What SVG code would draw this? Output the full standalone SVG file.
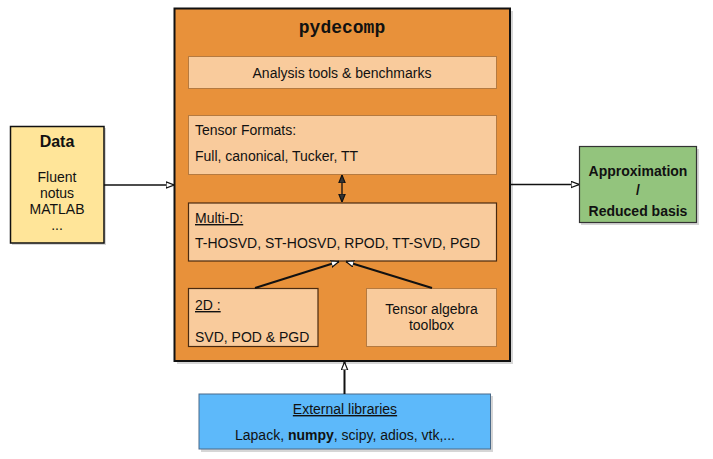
<svg xmlns="http://www.w3.org/2000/svg" width="713" height="459" viewBox="0 0 713 459">
<style>
text{font-family:"Liberation Sans",Arial,sans-serif;font-size:14px;fill:#111}
.b{font-weight:bold}
.c{text-anchor:middle}
.u{text-decoration:underline}
.sh{fill:#bbb;opacity:0.6}
.inL{fill:#F9CB9C;stroke:#B57A40;stroke-width:1}
.inD{fill:#F9CB9C;stroke:#4a2a10;stroke-width:1.2}
.ln{stroke:#111;stroke-width:1.3;fill:none}
.lnb{stroke:#111;stroke-width:2;fill:none}
</style>
<defs>
<marker id="ao" viewBox="0 0 10 10" refX="10" refY="5" markerWidth="8" markerHeight="8" markerUnits="userSpaceOnUse" orient="auto">
<path d="M0,1 L10,5 L0,9 Z" fill="#fff" stroke="#111" stroke-width="1.5"/>
</marker>
<marker id="af" viewBox="0 0 10 10" refX="10" refY="5" markerWidth="8" markerHeight="8" markerUnits="userSpaceOnUse" orient="auto-start-reverse">
<path d="M0,1 L10,5 L0,9 Z" fill="#333" stroke="#111" stroke-width="1.5"/>
</marker>
</defs>
<g id="main">
<rect class="sh" x="177" y="11" width="336" height="353"/>
<rect x="174.5" y="8.5" width="335.5" height="352.5" fill="#E8913A" stroke="#111" stroke-width="2"/>
<text class="b c" x="342" y="33" style="font-family:'Liberation Mono','DejaVu Sans Mono',monospace;font-size:18px">pydecomp</text>
</g>
<g id="analysis">
<rect class="inL" x="188.5" y="56.5" width="308" height="32"/>
<text class="c" x="342" y="77.5">Analysis tools &amp; benchmarks</text>
</g>
<g id="formats">
<rect class="inL" x="188.5" y="115.5" width="308" height="59"/>
<text x="195" y="135">Tensor Formats:</text>
<text x="195" y="161">Full, canonical, Tucker, TT</text>
</g>
<g id="multid">
<rect class="inD" x="188.5" y="203" width="308" height="58"/>
<text class="u" x="195" y="223">Multi-D:</text>
<text x="195" y="248">T-HOSVD, ST-HOSVD, RPOD, TT-SVD, PGD</text>
</g>
<g id="twod">
<rect class="inD" x="188.5" y="288.5" width="129.5" height="58"/>
<text class="u" x="195" y="310">2D :</text>
<text x="195" y="342">SVD, POD &amp; PGD</text>
</g>
<g id="algebra">
<rect class="inL" x="366.5" y="288.5" width="130" height="58"/>
<text class="c" x="431.5" y="314">Tensor algebra</text>
<text class="c" x="431.5" y="330">toolbox</text>
</g>
<g id="data">
<rect class="sh" x="12" y="128" width="94" height="117"/>
<rect x="10.5" y="126.5" width="93.5" height="116.5" fill="#FFE599" stroke="#111" stroke-width="1.5"/>
<text class="b c" x="57" y="147" style="font-size:16px">Data</text>
<text class="c" x="57" y="182">Fluent</text>
<text class="c" x="57" y="198">notus</text>
<text class="c" x="57" y="214">MATLAB</text>
<text class="c" x="57" y="230">...</text>
</g>
<g id="approx">
<rect class="sh" x="581" y="149" width="118" height="76"/>
<rect x="579.5" y="146.5" width="117" height="76" fill="#93C47D" stroke="#333" stroke-width="1.2"/>
<text class="b c" x="638" y="176">Approximation</text>
<text class="b c" x="638" y="195">/</text>
<text class="b c" x="638" y="216">Reduced basis</text>
</g>
<g id="external">
<rect class="sh" x="201" y="396" width="292" height="56"/>
<rect x="199" y="394" width="291.5" height="55" fill="#5DB9FA" stroke="#4a6a8a" stroke-width="1"/>
<text class="c u" x="345" y="414">External libraries</text>
<text class="c" x="345" y="440">Lapack, <tspan class="b">numpy</tspan>, scipy, adios, vtk,...</text>
</g>
<g id="connectors">
<line class="ln" x1="104" y1="185" x2="174" y2="185" marker-end="url(#ao)"/>
<line class="ln" x1="510" y1="184.5" x2="579" y2="184.5" marker-end="url(#ao)"/>
<line class="ln" x1="342" y1="175" x2="342" y2="202" marker-start="url(#af)" marker-end="url(#af)"/>
<line class="lnb" x1="255" y1="288" x2="339" y2="261.5" marker-end="url(#ao)"/>
<line class="lnb" x1="432" y1="288" x2="346" y2="261.5" marker-end="url(#ao)"/>
<line class="lnb" x1="344.5" y1="394" x2="344.5" y2="362" marker-end="url(#ao)"/>
</g>
</svg>
